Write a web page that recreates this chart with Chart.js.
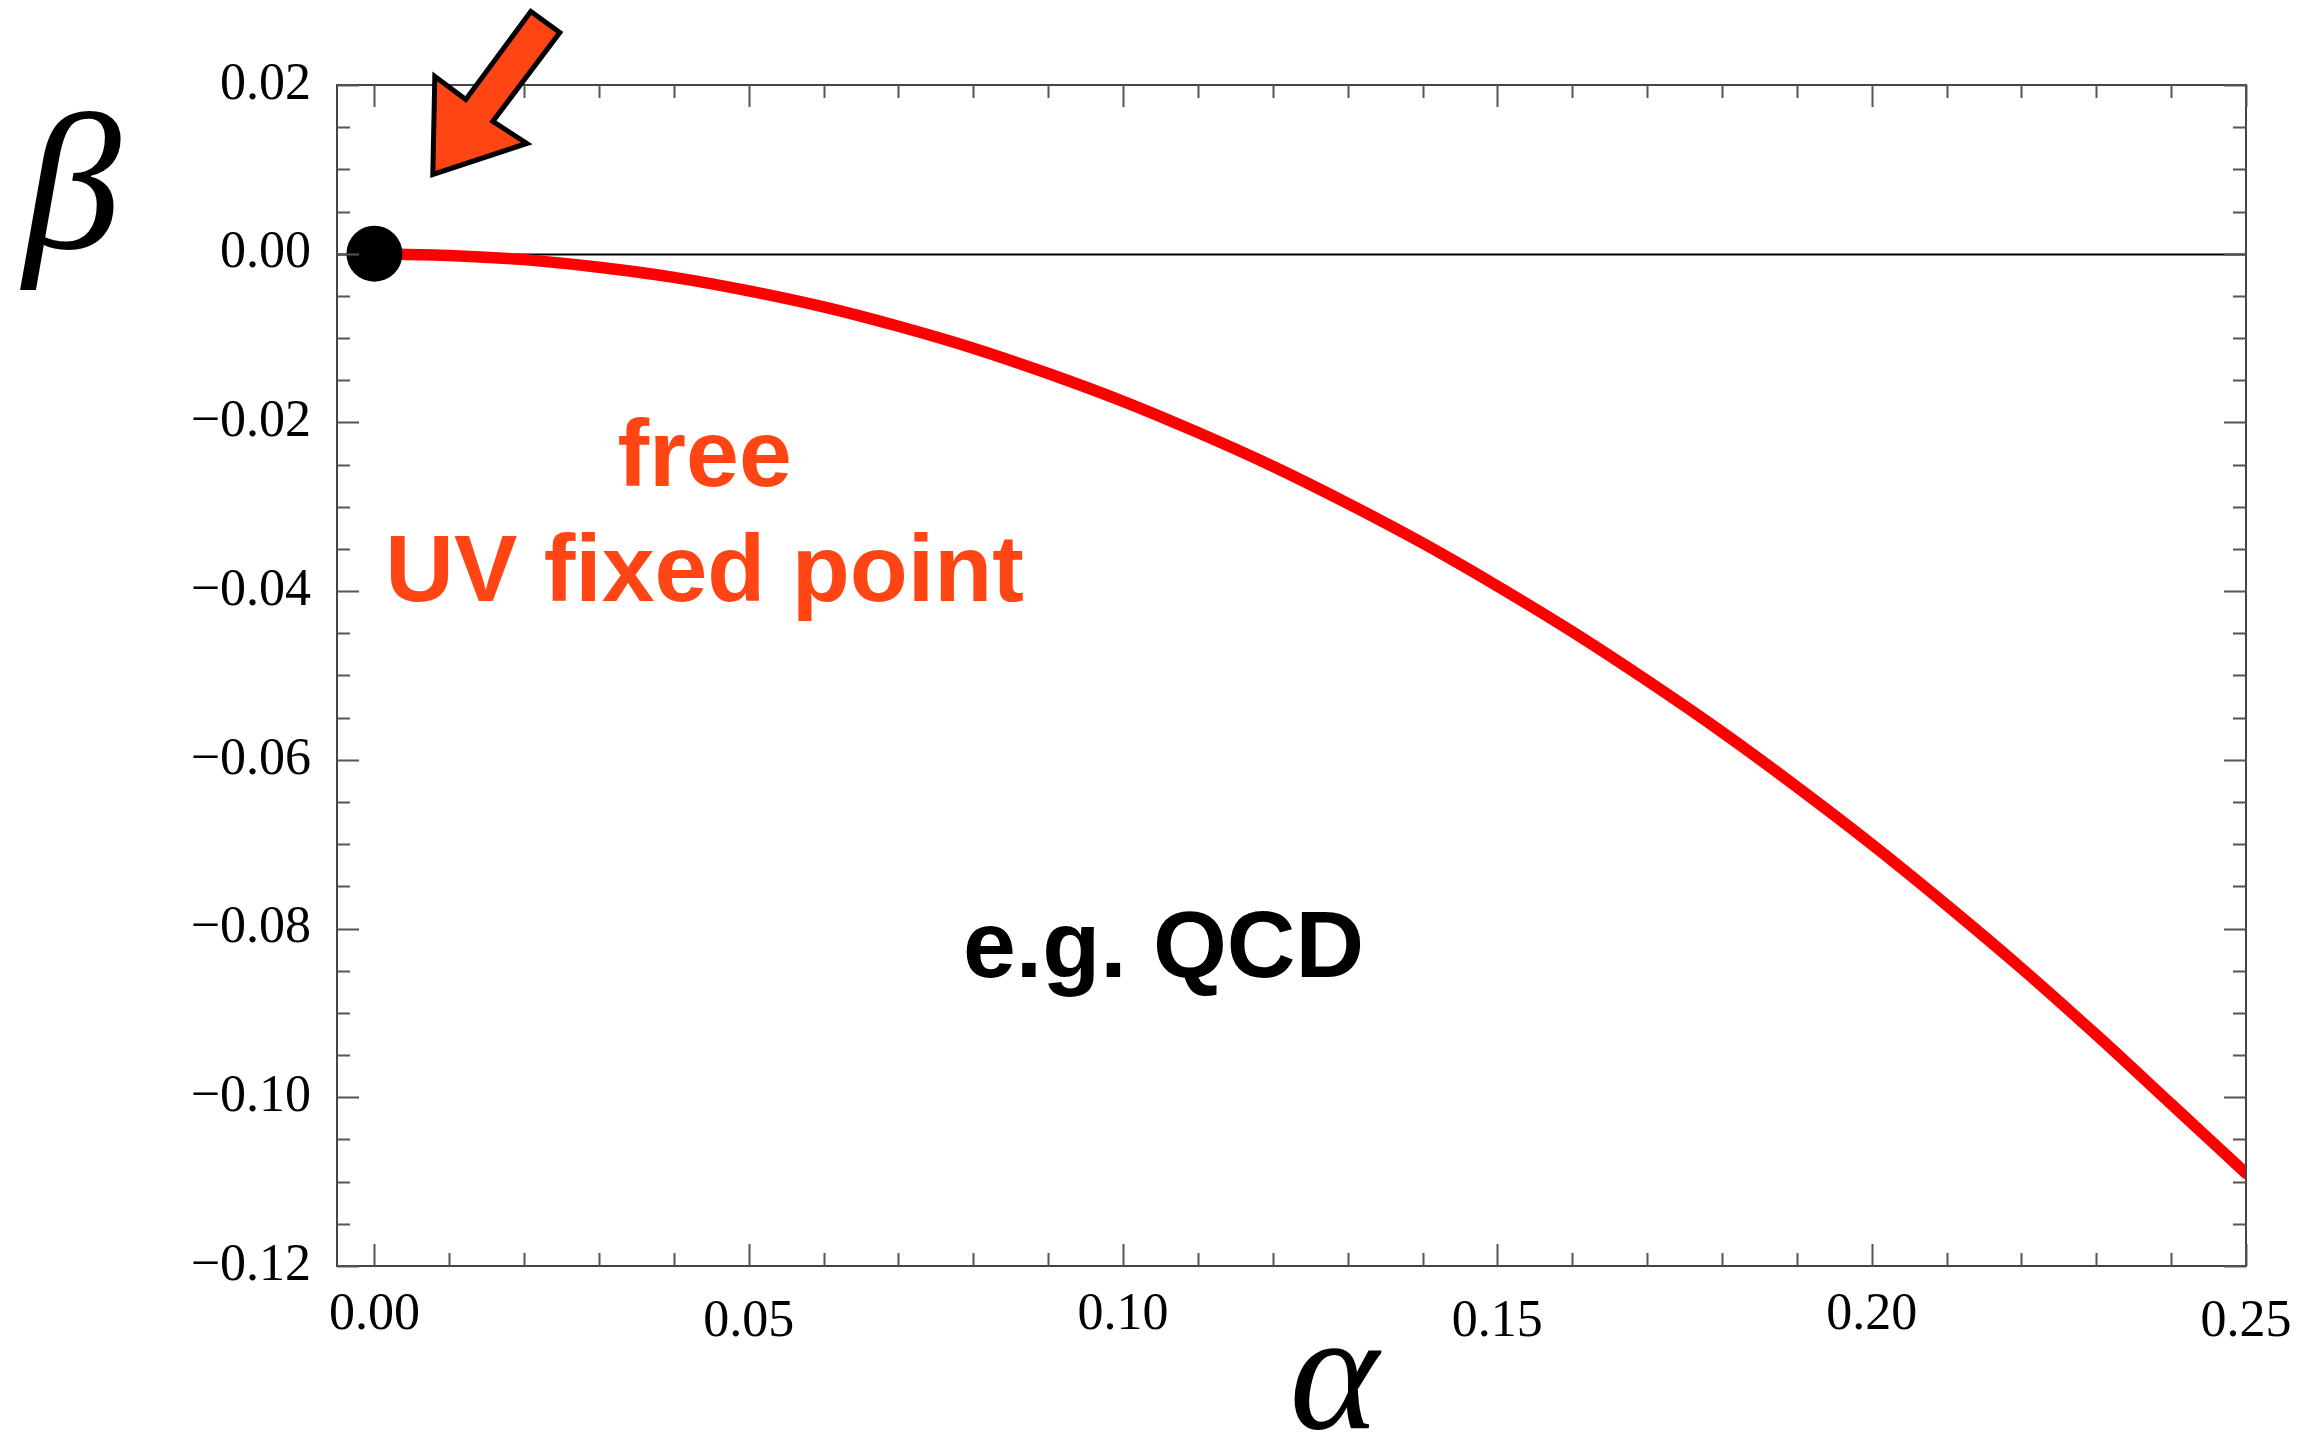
<!DOCTYPE html>
<html>
<head>
<meta charset="utf-8">
<script src="https://cdn.jsdelivr.net/npm/chart.js@4.4.1/dist/chart.umd.min.js"></script>
<style>
  html, body { margin: 0; padding: 0; background: #fff; }
  #wrap { width: 2305px; height: 1444px; }
</style>
</head>
<body>
<div id="wrap"><canvas id="chart" width="2305" height="1444"></canvas></div>
<script>
// one-loop beta function
const alphaVals = [0, 0.01, 0.02, 0.03, 0.04, 0.05, 0.06, 0.07, 0.08, 0.09, 0.10,
    0.11, 0.12, 0.13, 0.14, 0.15, 0.16, 0.17, 0.18, 0.19, 0.20,
    0.21, 0.22, 0.23, 0.24, 0.25];
const betaVals = [0, -0.0002, -0.0007, -0.0016, -0.0028, -0.0044, -0.0063, -0.0086, -0.0112, -0.0142, -0.0175,
    -0.0212, -0.0252, -0.0296, -0.0343, -0.0394, -0.0448, -0.0506, -0.0567, -0.0632, -0.0700,
    -0.0772, -0.0847, -0.0926, -0.1008, -0.1090];
const fixedPoint = [{ x: 0, y: 0 }];

const xTicks = [0, 0.05, 0.10, 0.15, 0.20, 0.25];
const yTicks = [0.02, 0, -0.02, -0.04, -0.06, -0.08, -0.10, -0.12];
const xMinorStep = 0.01;
const yMinorStep = 0.005;

const serif = "'Liberation Serif', 'Times New Roman', serif";
const sans = "'Liberation Sans', Arial, Helvetica, sans-serif";
const orange = '#ff4514';

function fmtY(v) {
    const s = Math.abs(v).toFixed(2);
    return v < -1e-9 ? '\u2212' + s : s;
}

const framePlugin = {
    id: 'frame',
    beforeDatasetsDraw(chart) {
        const { ctx, chartArea: a, scales: { y } } = chart;
        const y0 = Math.round(y.getPixelForValue(0)) + 0.5;
        ctx.save();
        ctx.strokeStyle = '#000';
        ctx.lineWidth = 2;
        ctx.beginPath();
        ctx.moveTo(a.left, y0);
        ctx.lineTo(a.right, y0);
        ctx.stroke();
        ctx.restore();
    },
    afterDatasetsDraw(chart) {
        const { ctx, chartArea: a, scales: { x, y } } = chart;
        ctx.save();
        ctx.strokeStyle = '#444';
        ctx.lineWidth = 2;
        ctx.strokeRect(a.left, a.top, a.right - a.left, a.bottom - a.top);

        const major = 22, minor = 13;
        ctx.strokeStyle = '#555';
        ctx.beginPath();
        // x ticks, bottom and top
        for (let i = 0; i <= Math.round(x.max / xMinorStep); i++) {
            const v = i * xMinorStep;
            const len = xTicks.some(t => Math.abs(t - v) < 1e-9) ? major : minor;
            const px = Math.round(x.getPixelForValue(v)) + 0.5;
            ctx.moveTo(px, a.bottom); ctx.lineTo(px, a.bottom - len);
            ctx.moveTo(px, a.top); ctx.lineTo(px, a.top + len);
        }
        // y ticks, left and right
        const n = Math.round((y.max - y.min) / yMinorStep);
        for (let i = 0; i <= n; i++) {
            const v = y.min + i * yMinorStep;
            const len = yTicks.some(t => Math.abs(t - v) < 1e-9) ? major : minor;
            const py = Math.round(y.getPixelForValue(v)) + 0.5;
            ctx.moveTo(a.left, py); ctx.lineTo(a.left + len, py);
            ctx.moveTo(a.right, py); ctx.lineTo(a.right - len, py);
        }
        ctx.stroke();
        ctx.restore();
    },
    afterDraw(chart) {
        const { ctx, chartArea: a, scales: { x, y } } = chart;
        ctx.save();

        // arrow pointing at the fixed point
        const tx = x.getPixelForValue(0.0078), ty = y.getPixelForValue(0.0094);
        const pts = [[0, 0], [2, -98], [33, -75], [98, -163], [127, -142], [60, -53], [94, -31]];
        ctx.beginPath();
        pts.forEach(([dx, dy], i) => i ? ctx.lineTo(tx + dx, ty + dy) : ctx.moveTo(tx + dx, ty + dy));
        ctx.closePath();
        ctx.fillStyle = orange;
        ctx.fill();
        ctx.lineWidth = 5;
        ctx.lineJoin = 'miter';
        ctx.strokeStyle = '#000';
        ctx.stroke();

        // annotations
        ctx.textAlign = 'center';
        ctx.textBaseline = 'alphabetic';
        ctx.font = 'bold 95px ' + sans;
        ctx.fillStyle = orange;
        ctx.fillText('free', x.getPixelForValue(0.0441), y.getPixelForValue(-0.0275));
        ctx.fillText('UV fixed point', x.getPixelForValue(0.0441), y.getPixelForValue(-0.0412));
        ctx.fillStyle = '#000';
        ctx.fillText('e.g. QCD', x.getPixelForValue(0.1054), y.getPixelForValue(-0.0858));

        // upright beta label at the top of the y axis
        ctx.font = 'italic 196px ' + serif;
        ctx.fillText('\u03b2', a.left - 265, y.getPixelForValue(0) - 6);
        ctx.restore();
    }
};

const chart = new Chart(document.getElementById('chart'), {
    type: 'scatter',
    data: {
        datasets: [
            {
                label: 'fixed point',
                data: fixedPoint,
                pointRadius: 28,
                pointBackgroundColor: '#000',
                pointBorderWidth: 0
            },
            {
                label: 'beta',
                data: alphaVals.map((a, i) => ({ x: a, y: betaVals[i] })),
                showLine: true,
                borderColor: '#ff0000',
                borderWidth: 11.5,
                borderCapStyle: 'round',
                pointRadius: 0,
                cubicInterpolationMode: 'monotone'
            }
        ]
    },
    options: {
        responsive: false,
        animation: false,
        devicePixelRatio: 1,
        layout: { padding: { left: 0, top: 85, right: 59, bottom: 0 } },
        plugins: {
            legend: { display: false },
            tooltip: { enabled: false }
        },
        scales: {
            x: {
                type: 'linear',
                min: -0.005,
                max: 0.25,
                afterBuildTicks: (scale) => { scale.ticks = xTicks.map(v => ({ value: v })); },
                afterFit: (scale) => { scale.height = 178; },
                grid: { display: false },
                border: { display: false },
                ticks: {
                    autoSkip: false,
                    maxRotation: 0,
                    padding: 10,
                    color: '#000',
                    font: (c) => ({ family: serif, size: 52, lineHeight: c.index % 2 ? 1.469 : 1.2 }),
                    callback: (v) => v.toFixed(2)
                },
                title: {
                    display: true,
                    // en space in front nudges the glyph right of the axis centre, as in the picture
                    text: '\u2002\u03b1',
                    color: '#000',
                    padding: { top: 0, bottom: 1 },
                    font: { family: serif, size: 170, style: 'italic', lineHeight: 0.7 }
                }
            },
            y: {
                type: 'linear',
                min: -0.12,
                max: 0.02,
                afterBuildTicks: (scale) => { scale.ticks = yTicks.map(v => ({ value: v })); },
                afterFit: (scale) => { scale.width = 337; },
                grid: { display: false },
                border: { display: false },
                ticks: {
                    autoSkip: false,
                    padding: 18,
                    color: '#000',
                    font: { family: serif, size: 52 },
                    callback: fmtY
                }
            }
        }
    },
    plugins: [framePlugin]
});
</script>
</body>
</html>
